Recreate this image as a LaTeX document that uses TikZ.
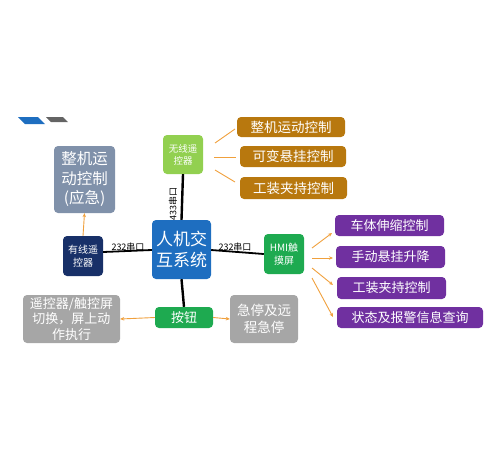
\documentclass[tikz,border=0pt]{standalone}
\usepackage{fontspec}
\setmainfont{Liberation Sans}
\newfontfamily\cjk{Noto Sans CJK SC}
\usetikzlibrary{arrows.meta}
\definecolor{navy}{RGB}{24,48,104}
\definecolor{cblue}{RGB}{30,110,192}
\definecolor{lgreen}{RGB}{146,208,80}
\definecolor{dgreen}{RGB}{30,170,80}
\definecolor{brown}{RGB}{184,120,14}
\definecolor{purp}{RGB}{112,48,160}
\definecolor{slate}{RGB}{128,145,170}
\definecolor{lgray}{RGB}{166,166,166}
\definecolor{ornge}{RGB}{240,160,60}
\definecolor{dgray}{RGB}{100,100,100}
\tikzset{
  box/.style={rounded corners=4pt, text=white, align=center, inner sep=0pt, font=\cjk},
  oarr/.style={draw=ornge, line width=0.9pt, -{Stealth[length=4pt,width=3.5pt]}},
  oline/.style={draw=ornge, line width=0.9pt},
  blk/.style={draw=black, line width=2.4pt},
  blk2/.style={draw=black, line width=1.8pt},
  lbl/.style={font=\cjk\fontsize{9}{10}\selectfont, inner sep=0pt}
}
\begin{document}
\begin{tikzpicture}[x=1pt,y=-1pt]
\useasboundingbox (0,0) rectangle (495,458);
% decoration
\fill[cblue] (18,117) -- (38,117) -- (45,124) -- (25,124) -- cycle;
\fill[dgray] (46,117) -- (63,117) -- (68,122) -- (51,122) -- cycle;

% nodes
\node[box, fill=slate, minimum width=61pt, minimum height=67pt, font=\cjk\fontsize{15.5}{19.5}\selectfont] (emg) at (84.5,179.5) {整机运\\动控制\\(应急)};
\node[box, fill=lgreen, minimum width=40pt, minimum height=39pt, font=\cjk\fontsize{9.5}{12}\selectfont] (wl) at (183,154.5) {无线遥\\控器};
\node[box, fill=brown, minimum width=108pt, minimum height=20pt, font=\cjk\fontsize{13.5}{15}\selectfont] (b1) at (291,127) {整机运动控制};
\node[box, fill=brown, minimum width=106pt, minimum height=21pt, font=\cjk\fontsize{13.5}{15}\selectfont] (b2) at (293,156.5) {可变悬挂控制};
\node[box, fill=brown, minimum width=107pt, minimum height=22pt, font=\cjk\fontsize{13.5}{15}\selectfont] (b3) at (293.5,188) {工装夹持控制};
\node[box, fill=cblue, minimum width=59pt, minimum height=59pt, font=\cjk\fontsize{17}{21}\selectfont] (hm) at (181.5,249.5) {人机交\\互系统};
\node[box, fill=navy, minimum width=40pt, minimum height=40pt, font=\cjk\fontsize{10}{13}\selectfont] (wd) at (83,256) {有线遥\\控器};
\node[box, fill=dgreen, minimum width=40pt, minimum height=40pt, font=\cjk\fontsize{10}{13}\selectfont] (hmi) at (284,254) {HMI触\\摸屏};
\node[box, fill=purp, minimum width=109pt, minimum height=21pt, font=\cjk\fontsize{13}{15}\selectfont] (p1) at (389.5,225.5) {车体伸缩控制};
\node[box, fill=purp, minimum width=109pt, minimum height=22pt, font=\cjk\fontsize{13}{15}\selectfont] (p2) at (390.5,257) {手动悬挂升降};
\node[box, fill=purp, minimum width=109pt, minimum height=22pt, font=\cjk\fontsize{13}{15}\selectfont] (p3) at (391.5,288) {工装夹持控制};
\node[box, fill=purp, minimum width=146pt, minimum height=21pt, font=\cjk\fontsize{13}{15}\selectfont] (p4) at (410,317.5) {状态及报警信息查询};
\node[box, fill=dgreen, minimum width=58pt, minimum height=21pt, font=\cjk\fontsize{13}{15}\selectfont] (btn) at (184,317.5) {按钮};
\node[box, fill=lgray, minimum width=97pt, minimum height=48pt, font=\cjk\fontsize{13}{15.5}\selectfont] (sw) at (71.5,319) {遥控器/触控屏\\切换，屏上动\\作执行};
\node[box, fill=lgray, minimum width=68pt, minimum height=48pt, font=\cjk\fontsize{13.5}{17}\selectfont] (es) at (264,319) {急停及远\\程急停};

% black connections
\draw[blk] (wl.south) -- (hm.north);
\node[lbl, rotate=90] (l433) at (173,204) {433串口};
\draw[blk] (hm.south) -- (btn.north);
\draw[blk2] (wd.east |- 0,252) -- (hm.west |- 0,250);
\draw[blk2] (hm.east |- 0,250) -- (hmi.west |- 0,254);
\node[lbl] (l1) at (128,247) {232串口};
\node[lbl] (l2) at (235,247) {232串口};

% orange
\draw[oarr] (wd.north) -- (emg.south);
\draw[oarr] (btn.west) -- (sw.east);
\draw[oarr] (btn.east) -- (es.west);
\draw[oline] (215,143) -- (235,129);
\draw[oline] (214,157) -- (236,157);
\draw[oline] (215,170) -- (235,182);
\draw[oarr] (312,248) -- (332,233);
\draw[oarr] (312,258) -- (333,258);
\draw[oarr] (312,268) -- (333,285);
\draw[oarr] (312,278) -- (333,317);
\end{tikzpicture}
\end{document}
